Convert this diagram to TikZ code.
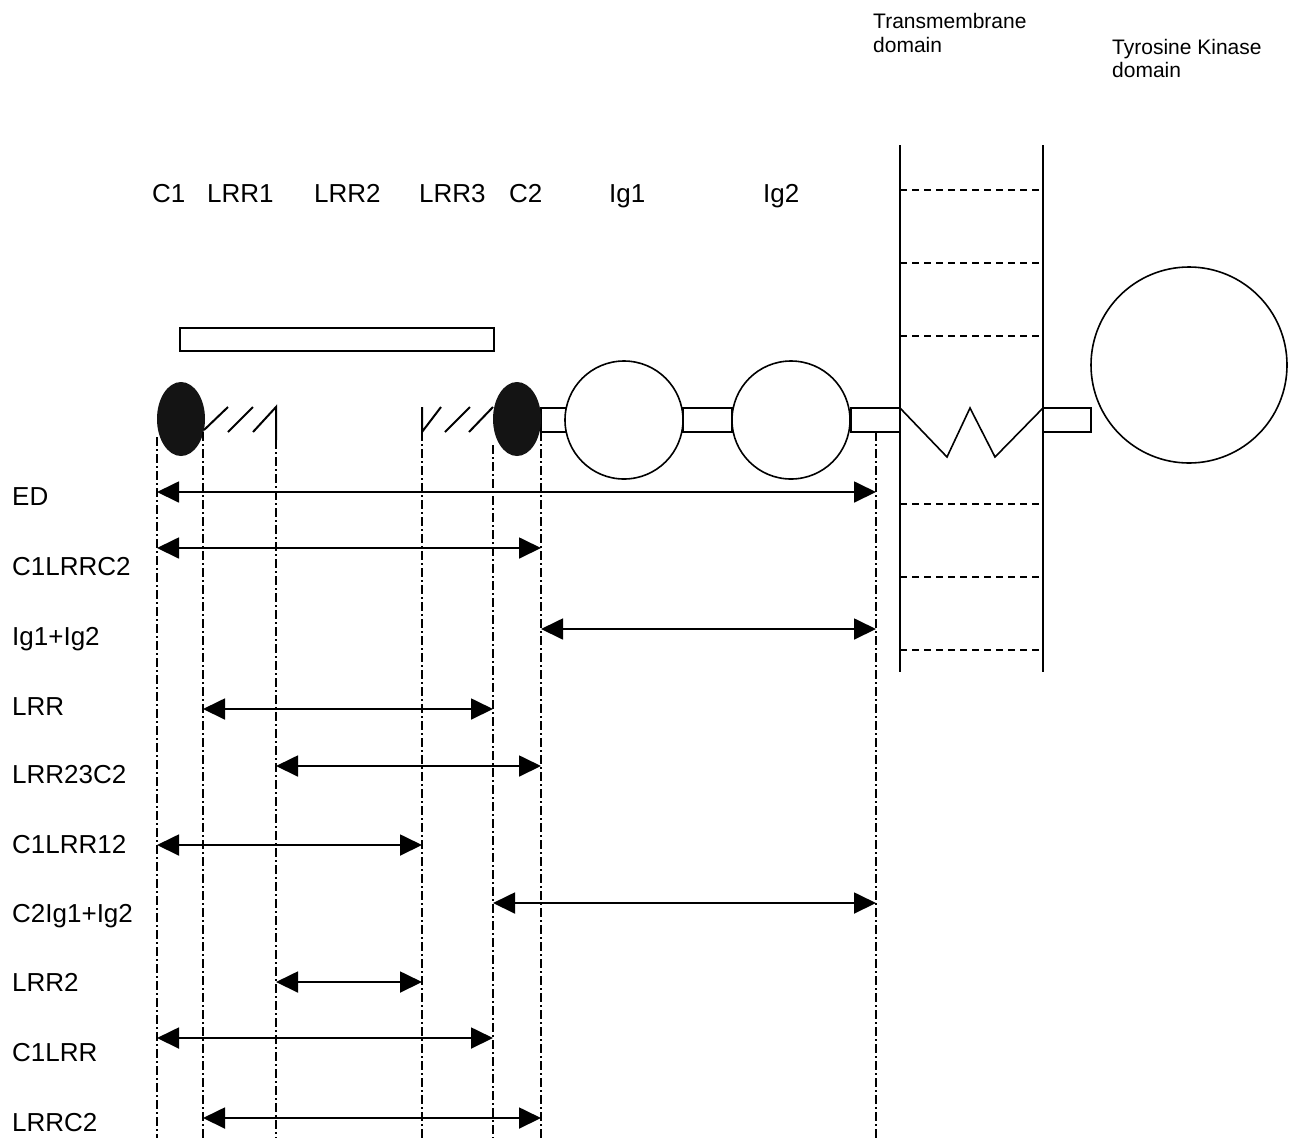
\documentclass[tikz,border=0pt]{standalone}
\usepackage{fontspec}
\setmainfont{Liberation Sans}
\usetikzlibrary{arrows.meta,shapes.geometric}
\begin{document}
\begin{tikzpicture}[x=1pt,y=-1pt,
  dd/.style={line width=1.5pt,dash pattern=on 9pt off 3pt on 2pt off 3pt},
  rng/.style={line width=1.8pt,{Triangle[length=22pt,width=21pt]}-{Triangle[length=22pt,width=21pt]}},
  lab/.style={anchor=base west,inner sep=0pt,font=\fontsize{26}{30}\selectfont},
  small/.style={anchor=base west,inner sep=0pt,font=\fontsize{21}{24}\selectfont},
  ln/.style={line width=1.6pt},
  dom/.style={circle,draw,line width=1.6pt,fill=white,inner sep=0pt},
  cys/.style={ellipse,fill=black!92,inner sep=0pt,minimum width=48pt,minimum height=74pt},
  mdash/.style={line width=1.4pt,dash pattern=on 7pt off 5pt}
]
\useasboundingbox (0,0) rectangle (1292,1138);

% top labels
\node[small] (tm1) at (873,28) {Transmembrane};
\node[small] (tm2) at (873,52) {domain};
\node[small] (tk1) at (1112,54) {Tyrosine Kinase};
\node[small] (tk2) at (1112,77) {domain};

\node[lab] (lc1) at (152,202) {C1};
\node[lab] (ll1) at (207,202) {LRR1};
\node[lab] (ll2) at (314,202) {LRR2};
\node[lab] (ll3) at (419,202) {LRR3};
\node[lab] (lc2) at (509,202) {C2};
\node[lab] (li1) at (609,202) {Ig1};
\node[lab] (li2) at (763,202) {Ig2};

% long box above LRR
\draw[ln] (180,328) rectangle (494,351);

% membrane
\draw[ln] (900,145) -- (900,672);
\draw[ln] (1043,145) -- (1043,672);
\foreach \y in {190,263,336,504,577,650}
  \draw[mdash] (900,\y) -- (1043,\y);
\draw[ln] (900,408) -- (947,457) -- (970,408) -- (995,457) -- (1043,408);

% linker rectangles
\draw[ln] (541,408) rectangle (566,432);
\draw[ln] (683,408) rectangle (732,432);
\draw[ln] (851,408) rectangle (900,432);
\draw[ln] (1043,408) rectangle (1091,432);

% domains
\node[dom,minimum size=118pt] (ig1) at (624,420) {};
\node[dom,minimum size=118pt] (ig2) at (791,420) {};
\node[dom,minimum size=196pt] (tk) at (1189,365) {};
\node[cys] (c1) at (181,419) {};
\node[cys] (c2) at (517,419) {};

% LRR hatches
\draw[line width=2pt] (204,430) -- (228,407);
\draw[line width=2pt] (228,432) -- (253,407);
\draw[line width=2pt] (253,432) -- (276,407) -- (276,440);
\draw[line width=2pt] (422,407) -- (422,432) -- (441,407);
\draw[line width=2pt] (445,432) -- (470,407);
\draw[line width=2pt] (469,432) -- (493,407);

% boundary coordinates
\foreach \n/\x/\t in {a/157/437,b/203/432,c/276/440,d/422/432,e/493/445,f/541/432,g/876/432}{
  \coordinate (\n t) at (\x,\t);
  \coordinate (\n b) at (\x,1138);
  \draw[dd] (\n t) -- (\n b);
}

% range arrows and labels
\newcommand{\rangearrow}[6]{%
  \node[lab] (L#1) at (12,#6) {#5};
  \draw[rng] (#3t |- 0,#2) -- (#4t |- 0,#2);
}
\rangearrow{1}{492}{a}{g}{ED}{505}
\rangearrow{2}{548}{a}{f}{C1LRRC2}{575}
\rangearrow{3}{629}{f}{g}{Ig1+Ig2}{645}
\rangearrow{4}{709}{b}{e}{LRR}{715}
\rangearrow{5}{766}{c}{f}{LRR23C2}{783}
\rangearrow{6}{845}{a}{d}{C1LRR12}{853}
\rangearrow{7}{903}{e}{g}{C2Ig1+Ig2}{922}
\rangearrow{8}{982}{c}{d}{LRR2}{991}
\rangearrow{9}{1038}{a}{e}{C1LRR}{1061}
\rangearrow{10}{1118}{b}{f}{LRRC2}{1131}
\end{tikzpicture}
\end{document}
